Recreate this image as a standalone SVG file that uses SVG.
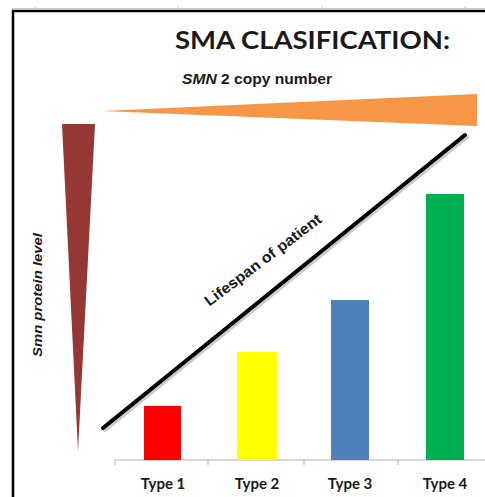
<svg xmlns="http://www.w3.org/2000/svg" width="485" height="497" viewBox="0 0 485 497">
<style>
.title{font-family:Lato,"Open Sans","Liberation Sans",sans-serif;font-weight:bold;fill:#1a1a1a}
.lbl{font-family:"Liberation Sans",Arial,sans-serif;font-weight:bold;fill:#1a1a1a}
.type{font-family:Lato,"Open Sans","Liberation Sans",sans-serif;font-weight:bold;font-size:15px;fill:#1a1a1a;text-anchor:middle}
.axis{stroke:#b0b0b0;stroke-width:1;fill:none}
</style>
<rect width="485" height="497" fill="#ffffff"/>
<g id="frame">
<path d="M12 8.5 H485 M35 8.5 V6 M178 8.5 V6 M322 8.5 V6 M465 8.5 V6" stroke="#c8c8c8" stroke-width="1" fill="none"/>
<path d="M13 497 V11 H485" stroke="#000" stroke-width="2.5" fill="none"/>
</g>
<g id="title">
<text class="title" x="175" y="49" font-size="25" textLength="275" lengthAdjust="spacingAndGlyphs">SMA CLASIFICATION:</text>
</g>
<g id="smn2">
<polygon points="102,111 477,94 477,126" fill="#F79646"/>
<text class="lbl" x="182" y="84" font-size="14.5" textLength="150" lengthAdjust="spacingAndGlyphs"><tspan font-style="italic">SMN</tspan> 2 copy number</text>
</g>
<g id="smn-protein">
<polygon points="62,124 95,124 78,451" fill="#953735"/>
<text class="lbl" font-style="italic" font-size="13.5" transform="translate(42,295) rotate(-90)" text-anchor="middle" textLength="124" lengthAdjust="spacingAndGlyphs">Smn protein level</text>
</g>
<g id="connectors">
<line x1="105" y1="430" x2="467" y2="137" stroke="#999" stroke-width="4" stroke-linecap="round" opacity="0.5"/>
<line x1="103" y1="428" x2="465" y2="135" stroke="#000" stroke-width="4" stroke-linecap="round"/>
</g>
<g id="lifespan">
<text class="lbl" font-size="15" transform="translate(266,264) rotate(-37)" text-anchor="middle" textLength="142" lengthAdjust="spacingAndGlyphs">Lifespan of patient</text>
</g>
<g id="axis">
<path class="axis" d="M115 460 H485 M115 460 V465 M208 460 V465 M304 460 V465 M398 460 V465"/>
</g>
<g id="type1">
<rect x="144" y="406" width="37" height="54" fill="#FF0000"/>
<text class="type" x="163" y="489">Type 1</text>
</g>
<g id="type2">
<rect x="237" y="352" width="40" height="108" fill="#FFFF00"/>
<text class="type" x="257" y="489">Type 2</text>
</g>
<g id="type3">
<rect x="331" y="300" width="38" height="160" fill="#4F81BD"/>
<text class="type" x="350" y="489">Type 3</text>
</g>
<g id="type4">
<rect x="426" y="194" width="38" height="266" fill="#00B050"/>
<text class="type" x="445" y="489">Type 4</text>
</g>
</svg>
